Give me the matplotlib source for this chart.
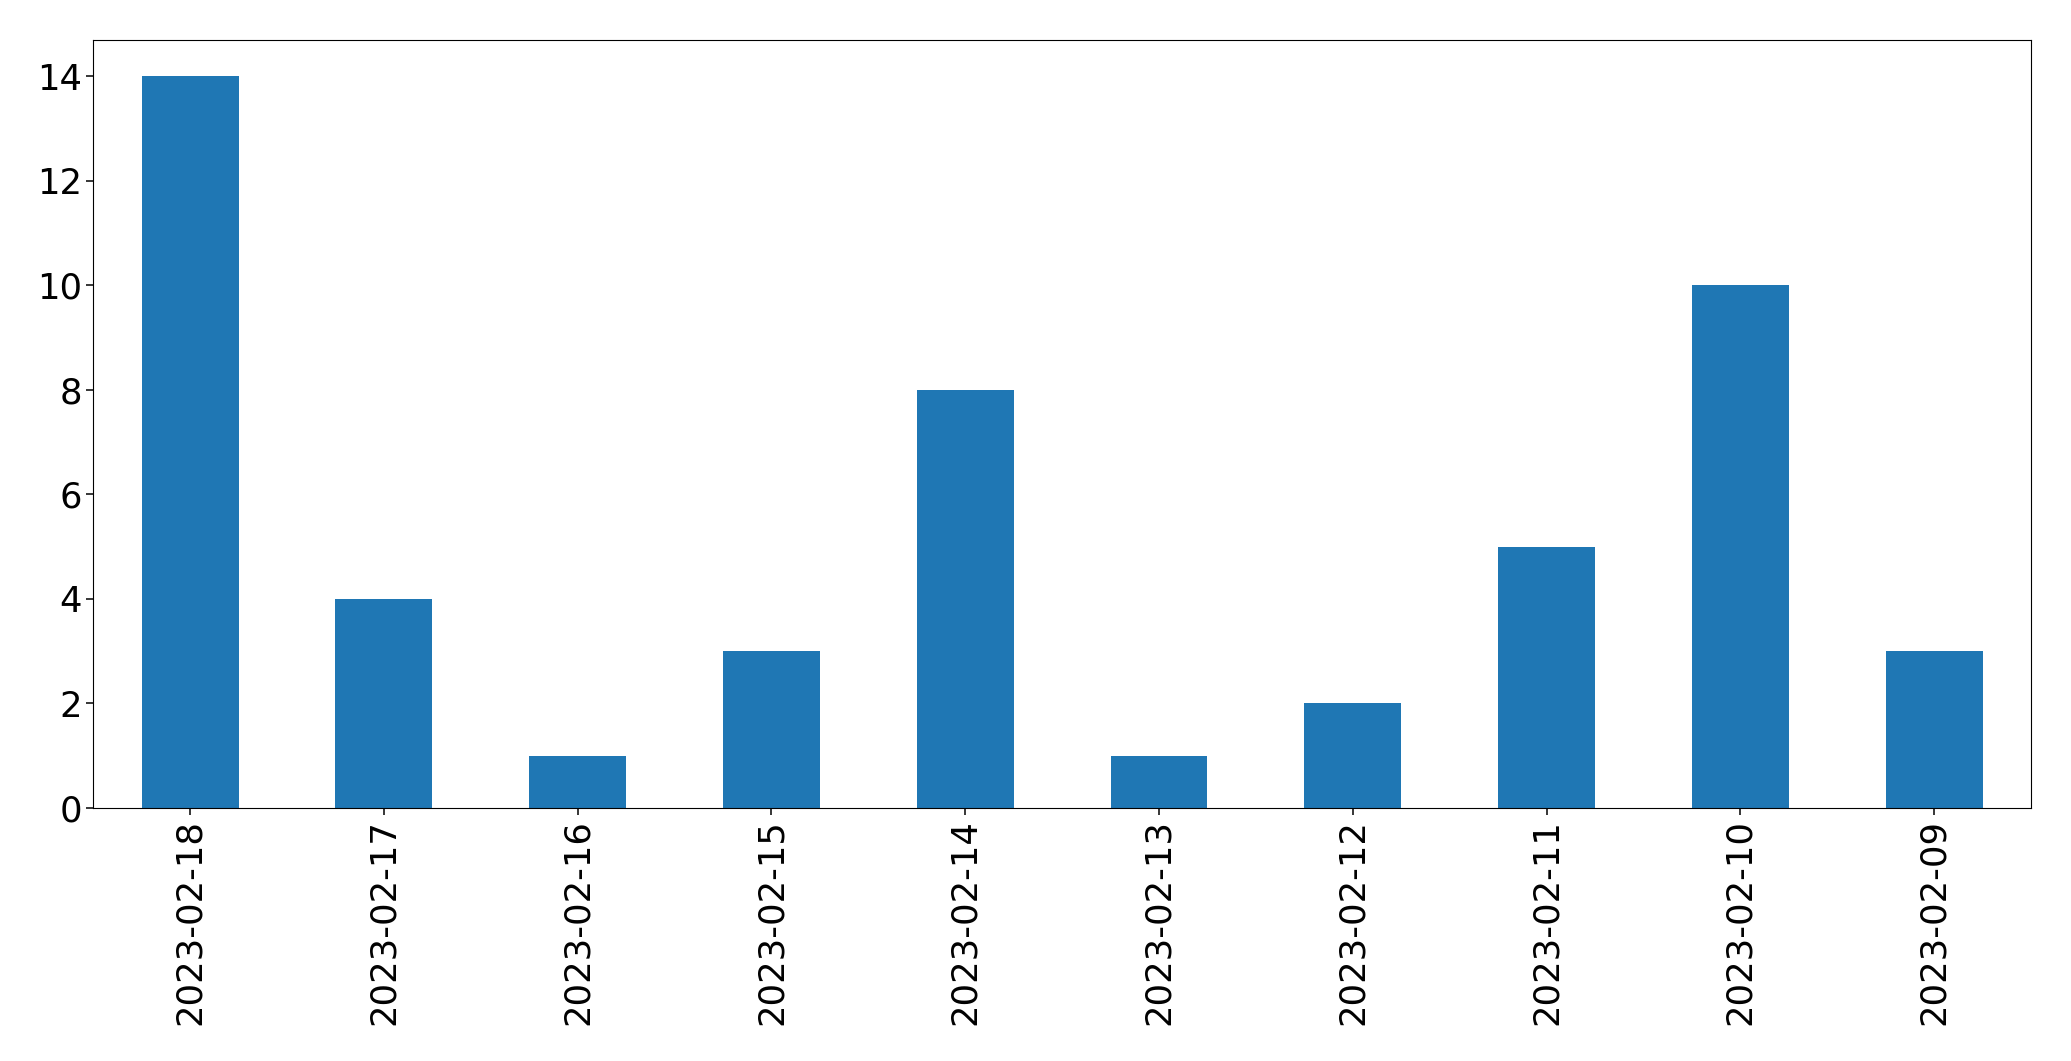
import matplotlib
matplotlib.use("Agg")
import matplotlib.pyplot as plt
import numpy as np

dates = ["2023-02-18", "2023-02-17", "2023-02-16", "2023-02-15", "2023-02-14",
         "2023-02-13", "2023-02-12", "2023-02-11", "2023-02-10", "2023-02-09"]
counts = [14, 4, 1, 3, 8, 1, 2, 5, 10, 3]

fig = plt.figure(figsize=(20.71, 10.61), dpi=100)
ax = fig.add_axes([0.0450, 0.2385, 0.9357, 0.7242])

x = np.arange(len(dates))
ax.bar(x, counts, width=0.5, color="#1f77b4")
ax.set_xlim(-0.5, len(dates) - 0.5)
ax.set_xticks(x)
ax.set_xticklabels(dates, rotation=90)
ax.tick_params(labelsize=25.5, length=4.7, width=1.1)
ax.set_yticks(range(0, 15, 2))

fig.savefig("out.png", dpi=100)
